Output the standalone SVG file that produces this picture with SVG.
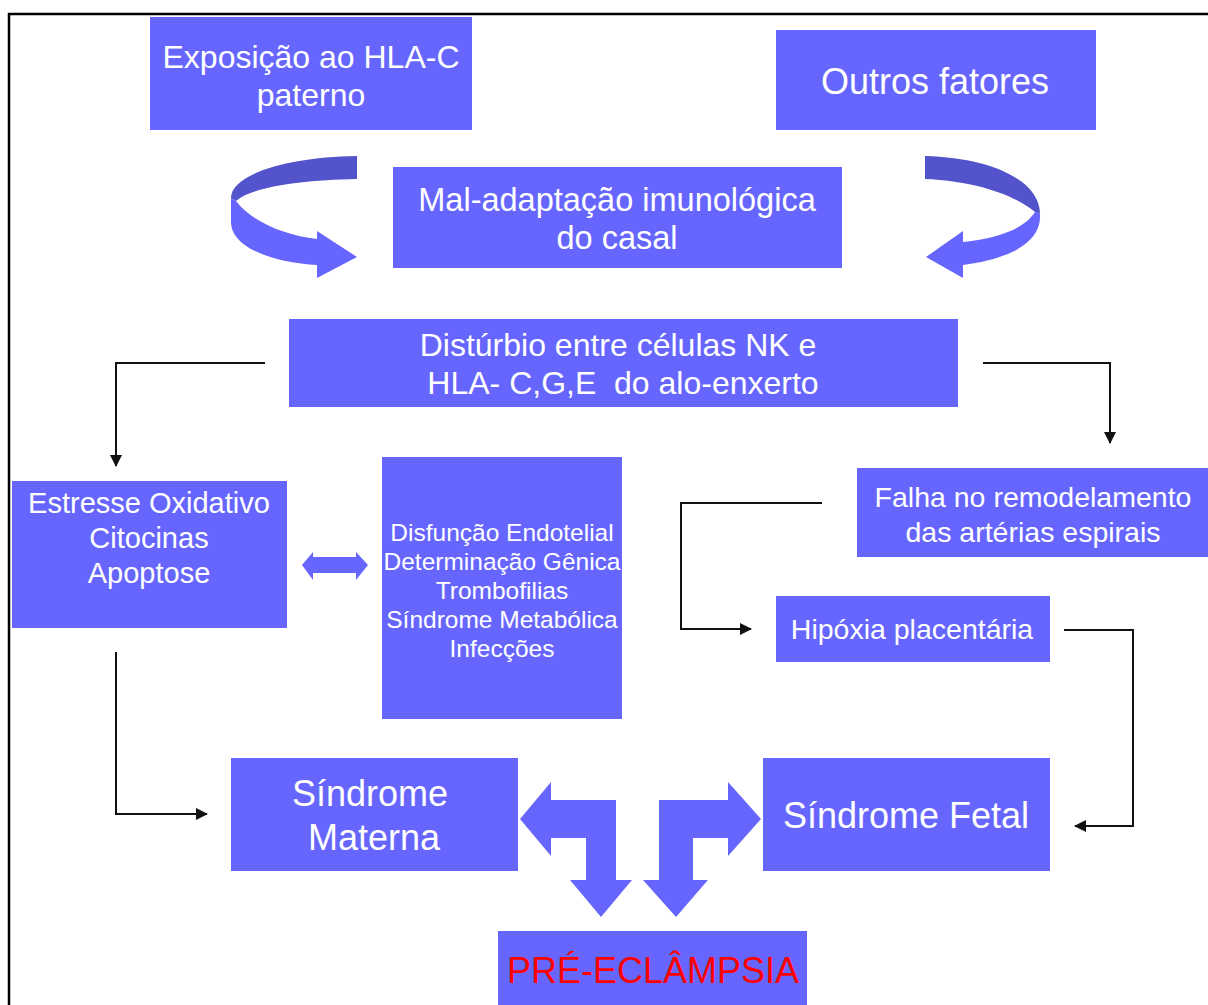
<svg xmlns="http://www.w3.org/2000/svg" width="1208" height="1005" viewBox="0 0 1208 1005">
<style>
.box{fill:#6666FF}
.t{font-family:"Liberation Sans",Arial,sans-serif;fill:#FFFFFF;text-anchor:middle}
.c{fill:none;stroke:#111111;stroke-width:2}
.dark{fill:#5353CB}
.light{fill:#6666FF}
</style>
<defs>
<marker id="ah" markerWidth="12" markerHeight="12" refX="11" refY="6" orient="auto" markerUnits="userSpaceOnUse">
<path d="M0,0 L12,6 L0,12 Z" fill="#111111"/>
</marker>
</defs>
<rect x="0" y="0" width="1208" height="1005" fill="#FFFFFF"/>
<path d="M9,1005 V14 H1208" fill="none" stroke="#000000" stroke-width="2.5"/>

<g id="n-exposicao">
<rect class="box" x="150" y="17" width="322" height="113"/>
<text class="t" font-size="32" x="311" y="68">Exposição ao HLA-C</text>
<text class="t" font-size="32" x="311" y="106">paterno</text>
</g>
<g id="n-outros">
<rect class="box" x="776" y="30" width="320" height="100"/>
<text class="t" font-size="36" x="935" y="94">Outros fatores</text>
</g>
<g id="n-maladaptacao">
<rect class="box" x="393" y="167" width="449" height="101"/>
<text class="t" font-size="32.5" x="617" y="211">Mal-adaptação imunológica</text>
<text class="t" font-size="32.5" x="617" y="249">do casal</text>
</g>
<g id="n-disturbio">
<rect class="box" x="289" y="319" width="669" height="88"/>
<text class="t" font-size="32" x="618" y="356">Distúrbio entre células NK e</text>
<text class="t" font-size="32" x="623" y="394" xml:space="preserve">HLA- C,G,E  do alo-enxerto</text>
</g>
<g id="n-estresse">
<rect class="box" x="12" y="481" width="275" height="147"/>
<text class="t" font-size="29" x="149" y="513">Estresse Oxidativo</text>
<text class="t" font-size="29" x="149" y="548">Citocinas</text>
<text class="t" font-size="29" x="149" y="583">Apoptose</text>
</g>
<g id="n-fatores">
<rect class="box" x="382" y="457" width="240" height="262"/>
<text class="t" font-size="24.5" x="502" y="541">Disfunção Endotelial</text>
<text class="t" font-size="24.5" x="502" y="570">Determinação Gênica</text>
<text class="t" font-size="24.5" x="502" y="599">Trombofilias</text>
<text class="t" font-size="24.5" x="502" y="628">Síndrome Metabólica</text>
<text class="t" font-size="24.5" x="502" y="657">Infecções</text>
</g>
<g id="n-falha">
<rect class="box" x="857" y="468" width="351" height="89"/>
<text class="t" font-size="28.5" x="1033" y="507">Falha no remodelamento</text>
<text class="t" font-size="28.5" x="1033" y="542">das artérias espirais</text>
</g>
<g id="n-hipoxia">
<rect class="box" x="776" y="596" width="274" height="66"/>
<text class="t" font-size="28.5" x="912" y="639">Hipóxia placentária</text>
</g>
<g id="n-materna">
<rect class="box" x="231" y="758" width="287" height="113"/>
<text class="t" font-size="36" x="370" y="806">Síndrome</text>
<text class="t" font-size="36" x="374" y="850">Materna</text>
</g>
<g id="n-fetal">
<rect class="box" x="763" y="758" width="287" height="113"/>
<text class="t" font-size="36" x="906" y="828">Síndrome Fetal</text>
</g>
<g id="n-preeclampsia">
<rect class="box" x="498" y="931" width="309" height="74"/>
<text class="t" font-size="36" x="653" y="983" style="fill:#FF0000">PRÉ-ECLÂMPSIA</text>
</g>

<g id="connectors">
<path class="c" d="M265,363 H116 V466" marker-end="url(#ah)"/>
<path class="c" d="M983,363 H1110 V443" marker-end="url(#ah)"/>
<path class="c" d="M822,503 H681 V629 H751" marker-end="url(#ah)"/>
<path class="c" d="M116,652 V814 H207" marker-end="url(#ah)"/>
<path class="c" d="M1064,630 H1133 V826 H1075" marker-end="url(#ah)"/>
<path class="light" d="M302,565 L313,552 L313,557 L356,557 L356,552 L368,565 L356,580 L356,573 L313,573 L313,580 Z"/>
<path class="light" d="M520,819 L551,782 L551,800 L616,800 L616,880 L632,880 L601,917 L570,880 L586,880 L586,838 L551,838 L551,856 Z"/>
<path class="light" d="M761,819 L728,782 L728,800 L659,800 L659,880 L643,880 L676,917 L708,880 L693,880 L693,838 L728,838 L728,856 Z"/>
<path class="dark" d="M357,156 C285,157 231,175 231,198 L236,201 C252,187 300,180 357,179 Z"/>
<path class="light" d="M231,198 L236,201 C252,222 285,235 317,239 L317,231 L357,257 L317,278 L317,265 C268,262 231,246 231,222 Z"/>
<path class="dark" d="M925,156 C995,158 1040,182 1040,214 L1035,212 C1015,195 975,181 925,179 Z"/>
<path class="light" d="M1035,212 L1040,214 C1042,242 1010,259 963,265 L963,278 L926,257 L963,231 L963,242 C1000,238 1025,228 1035,212 Z"/>
</g>
</svg>
